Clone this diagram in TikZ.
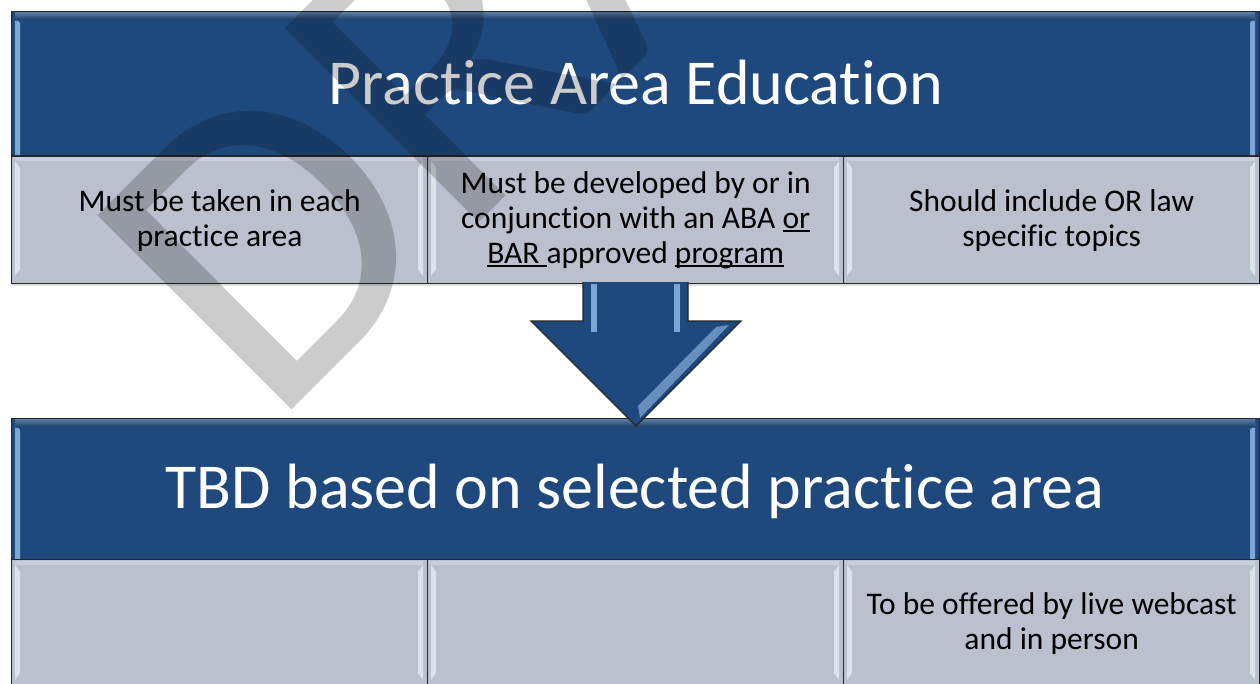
\documentclass[tikz,border=0pt]{standalone}
\usepackage{fontspec}
\setmainfont{Carlito}[RawFeature={-liga;-clig;-calt;-dlig}]
\definecolor{hdr}{RGB}{31,73,125}
\definecolor{cellc}{RGB}{186,192,206}
\definecolor{hlblue}{RGB}{150,190,235}
\newsavebox\ulbox
\newcommand\myul[1]{\sbox\ulbox{#1}\rlap{\rule[-3.5pt]{\wd\ulbox}{1.5pt}}\usebox\ulbox}
\tikzset{
  hdrbox/.style={draw=black!85, line width=1.3pt, fill=hdr, inner sep=0pt, anchor=north west,
    text=white, font=\fontsize{64}{70}\selectfont},
  cellbox/.style={draw=black!85, line width=1.3pt, fill=cellc, inner sep=0pt, anchor=north west,
    text=black, font=\fontsize{31.5}{35}\selectfont, align=center},
  hdrtext/.style={text=white, font=\fontsize{64}{70}\selectfont},
  wmark/.style={rotate=45, anchor=base west, inner sep=0pt, text=black, text opacity=0.2,
    font=\fontsize{428}{428}\selectfont},
  blockarrow/.style={draw=black!85, line width=1.3pt, fill=hdr, line join=miter},
  shine/.style={fill=white, opacity=0.55},
  blueshine/.style={fill=hlblue, opacity=0.8},
}
\newcommand\cellshine[4]{%
  \fill[shine] (#1+4,#2+6) -- (#1+9,#2+13) -- (#1+9,#4-13) -- (#1+4,#4-6) -- cycle;
  \fill[shine] (#3-4,#2+6) -- (#3-9,#2+13) -- (#3-9,#4-13) -- (#3-4,#4-6) -- cycle;
  \fill[white, opacity=0.25] (#1+4,#2+2) rectangle (#3-4,#2+6);}
\newcommand\hdrshine[4]{%
  \fill[blueshine] (#1+4,#2+5) -- (#1+9,#2+12) -- (#1+9,#4) -- (#1+4,#4) -- cycle;
  \fill[blueshine] (#3-4,#2+5) -- (#3-9,#2+12) -- (#3-9,#4) -- (#3-4,#4) -- cycle;
  \fill[top color=hlblue!70!hdr, bottom color=hdr, opacity=0.8] (#1+4,#2+1) rectangle (#3-4,#2+9);}
\begin{document}
\begin{tikzpicture}[x=1pt,y=-1pt]
\useasboundingbox (0,0) rectangle (1260,683);
\clip (0,0) rectangle (1260,683);
\fill[white] (0,0) rectangle (1260,683);
% soft shadow
\fill[black, opacity=0.12] (12,284) rectangle (1260,286);
% ---------- top block ----------
\node[hdrbox, minimum width=1248pt, minimum height=144pt] (h1) at (11,11) {};
\hdrshine{11}{11}{1259}{155}
\node[hdrtext] (t1) at (636,83) {Practice Area Education};
\node[cellbox, minimum width=416pt, minimum height=127pt] (a1) at (11,156)
  {Must be taken in each\\practice area};
\node[cellbox, minimum width=416pt, minimum height=127pt] (a2) at (427,156)
  {Must be developed by or in\\conjunction with an ABA \myul{or}\\\myul{BAR\ }approved \myul{program}};
\node[cellbox, minimum width=416pt, minimum height=127pt] (a3) at (843,156)
  {Should include OR law\\specific topics};
\cellshine{11}{155}{427}{282}
\cellshine{427}{155}{843}{282}
\cellshine{843}{155}{1259}{282}
% ---------- bottom block ----------
\node[hdrbox, minimum width=1248pt, minimum height=141pt] (h2) at (11,418) {};
\hdrshine{11}{418}{1259}{559}
\node[hdrtext] (t2) at (635,491) {TBD based on selected practice area};
\node[cellbox, minimum width=416pt, minimum height=127pt] (b1) at (11,559) {};
\node[cellbox, minimum width=416pt, minimum height=127pt] (b2) at (427,559) {};
\node[cellbox, minimum width=416pt, minimum height=127pt] (b3) at (843,559)
  {To be offered by live webcast\\and in person};
\cellshine{11}{559}{427}{686}
\cellshine{427}{559}{843}{686}
\cellshine{843}{559}{1259}{686}
% ---------- arrow ----------
\coordinate (tip) at (636,426);
\draw[blockarrow] (583,282) -- (583,321) -- (531,321) -- (tip) -- (741,321) -- (688,321) -- (688,282);
\fill[blueshine] (591,284) rectangle (597,332);
\fill[blueshine] (674,284) rectangle (680,332);
\fill[blueshine, opacity=0.6] (729,325) -- (716,327) -- (638,406) -- (640,418) -- cycle;
% ---------- watermark ----------
\node[wmark] (wm) at (271,431) {DRAFT};
\end{tikzpicture}
\end{document}
